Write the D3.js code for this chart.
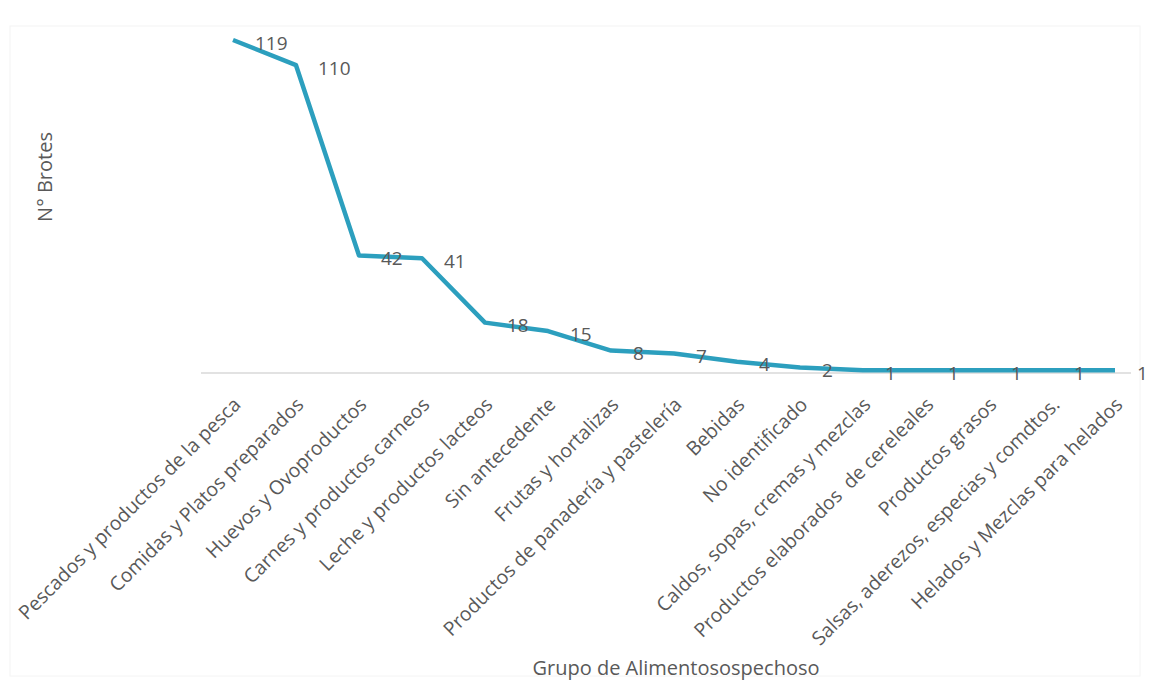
<!DOCTYPE html>
<html>
<head>
<meta charset="utf-8">
<script src="https://cdn.jsdelivr.net/npm/d3@7"></script>
<style>
  html, body { margin: 0; padding: 0; background: #fff; }
  svg { display: block; }
  text { font-family: "Open Sans", "Liberation Sans", sans-serif; fill: #595959; }
</style>
</head>
<body>
<svg id="chart" width="1150" height="685"></svg>
<script>
const categories = [
  "Pescados y productos de la pesca",
  "Comidas y Platos preparados",
  "Huevos y Ovoproductos",
  "Carnes y productos carneos",
  "Leche y productos lacteos",
  "Sin antecedente",
  "Frutas y hortalizas",
  "Productos de panadería y pastelería",
  "Bebidas",
  "No identificado",
  "Caldos, sopas, cremas y mezclas",
  "Productos elaborados  de cereleales",
  "Productos grasos",
  "Salsas, aderezos, especias y comdtos.",
  "Helados y Mezclas para helados"
];
const brotes = [119, 110, 42, 41, 18, 15, 8, 7, 4, 2, 1, 1, 1, 1, 1];
const yTitle = "N° Brotes";
const xTitle = "Grupo de Alimentosospechoso";

const svg = d3.select("#chart");

// faint frame
svg.append("rect").attr("x", 10).attr("y", 26).attr("width", 1130).attr("height", 650)
  .attr("fill", "none").attr("stroke", "#f4f4f4").attr("stroke-width", 1);

const x = d3.scalePoint().domain(categories).range([233, 1115]);
const y = d3.scaleLinear().domain([0, 119]).range([373, 40]);

// baseline axis
svg.append("line")
  .attr("x1", 201).attr("x2", 1131)
  .attr("y1", y(0)).attr("y2", y(0))
  .attr("stroke", "#d9d9d9").attr("stroke-width", 1.5);

// category labels
svg.append("g").selectAll("text").data(categories).join("text")
  .attr("transform", d => `translate(${x(d) + 4},${y(0) + 28}) rotate(-45)`)
  .attr("text-anchor", "end")
  .attr("dy", "0.35em")
  .attr("font-size", 19.5)
  .style("white-space", "pre")
  .text(d => d);

// line
const line = d3.line().x((d, i) => x(categories[i])).y(d => y(d));
svg.append("path").datum(brotes)
  .attr("d", line)
  .attr("fill", "none")
  .attr("stroke", "#2c9fbe")
  .attr("stroke-width", 4.5)
  .attr("stroke-linejoin", "round")
  .attr("stroke-linecap", "butt");

// data labels
svg.append("g").selectAll("text").data(brotes).join("text")
  .attr("x", (d, i) => x(categories[i]) + 22)
  .attr("y", d => y(d) + 3)
  .attr("dy", "0.35em")
  .attr("font-size", 19)
  .text(d => d);

// axis titles
svg.append("text")
  .attr("transform", "translate(45,177) rotate(-90)")
  .attr("text-anchor", "middle")
  .attr("dy", "0.35em")
  .attr("font-size", 20)
  .text(yTitle);

svg.append("text")
  .attr("x", 676).attr("y", 668)
  .attr("text-anchor", "middle")
  .attr("dy", "0.35em")
  .attr("font-size", 20)
  .text(xTitle);
</script>
</body>
</html>
